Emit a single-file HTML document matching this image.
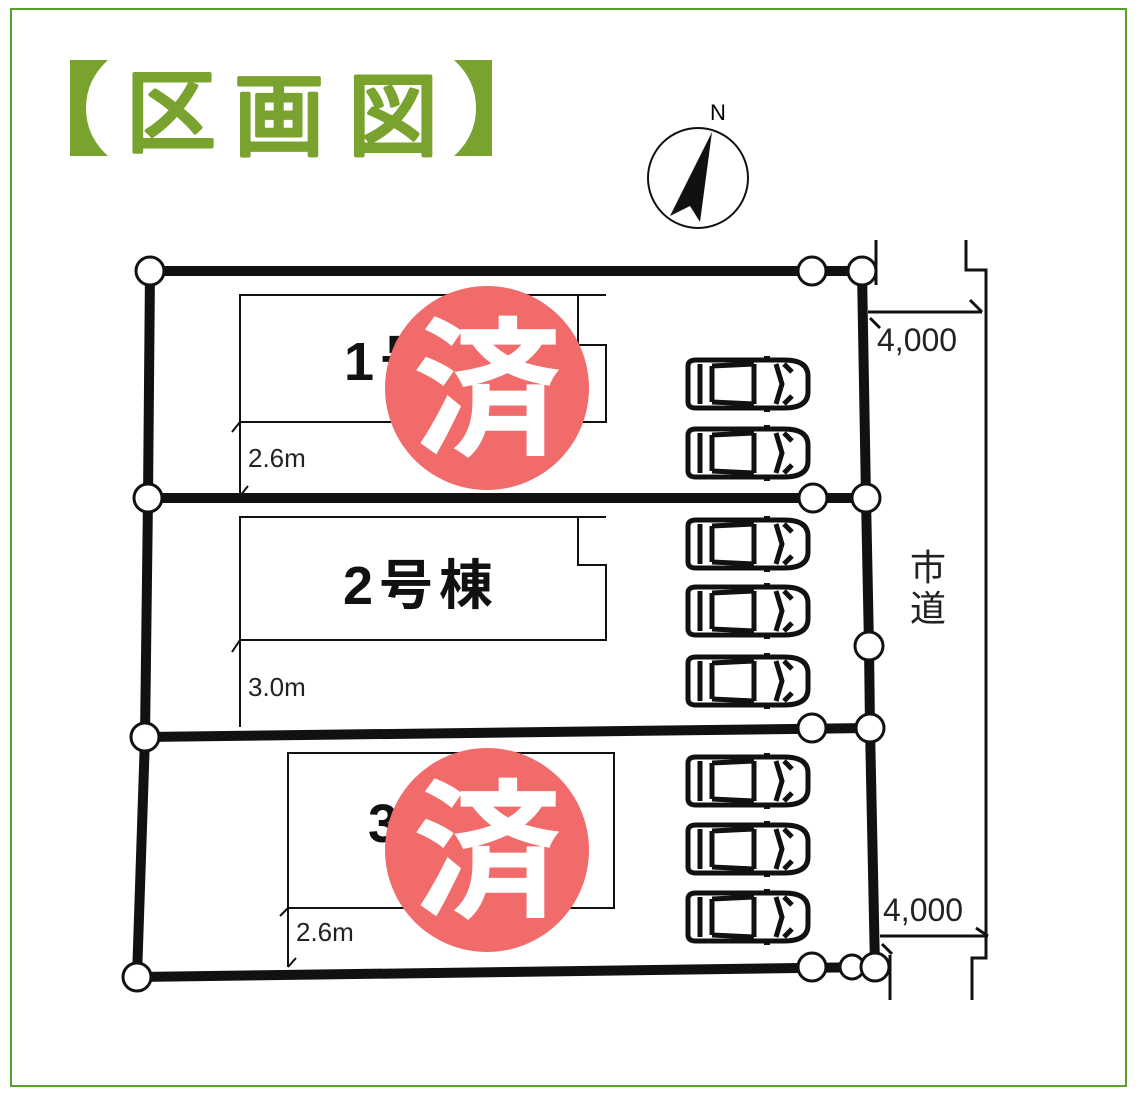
<!DOCTYPE html>
<html><head><meta charset="utf-8"><style>
html,body{margin:0;padding:0;background:#fff;}
svg{display:block;}
text{font-family:"Liberation Sans","Noto Sans CJK JP",sans-serif;}
</style></head><body>
<svg width="1139" height="1093" viewBox="0 0 1139 1093" xmlns="http://www.w3.org/2000/svg">
<defs>
<g id="car" fill="none" stroke="#111" stroke-width="5">
  <path d="M4,8 Q4,2 12,2 L100,2 Q124,2 124,18 L124,34 Q124,50 100,50 L12,50 Q4,50 4,44 Z"/>
  <path d="M16,6 L16,46 M28,8 L28,44 M70,6 L70,46 M92,6 L98,26 L92,46 M28,8 L70,6 M28,44 L70,46 M100,6 L108,14 M100,46 L108,38"/>
  <rect x="80" y="-2" width="6" height="6" fill="#111" stroke="none"/>
  <rect x="80" y="48" width="6" height="6" fill="#111" stroke="none"/>
</g>
</defs>
<rect x="11" y="9" width="1115" height="1077" fill="#fff" stroke="#5aa02c" stroke-width="2"/>

<!-- title -->
<g fill="#7aa22e">
  <path d="M70,60 L108,60 Q86,80 86,108 Q86,136 108,156 L70,156 Z"/>
  <path d="M492,60 L454,60 Q476,80 476,108 Q476,136 454,156 L492,156 Z"/>
  <g stroke="#7aa22e" stroke-width="4" stroke-linejoin="round">
  <text x="126" y="144" font-size="90">区</text>
  <text x="234" y="148" font-size="90">画</text>
  <text x="348" y="148" font-size="90">図</text>
  </g>
</g>

<!-- compass -->
<circle cx="698" cy="178" r="50" fill="none" stroke="#111" stroke-width="2"/>
<path d="M712,132 L700,222 L690,206 L670,216 Z" fill="#111"/>
<text x="710" y="120" font-size="22">N</text>

<!-- houses -->
<g fill="none" stroke="#111" stroke-width="2">
  <path d="M240,422 L240,295 L606,295 M578,295 L578,345 L606,345 L606,422 L240,422"/>
  <path d="M240,496 L240,422 M232,432 L240,422"/>
  <path d="M240,640 L240,517 L606,517 M578,517 L578,565 L606,565 L606,640 L240,640"/>
  <path d="M240,727 L240,640 M232,652 L240,640"/>
  <path d="M288,908 L288,753 L614,753 L614,908 L288,908"/>
  <path d="M288,967 L288,908 M280,916 L288,908 M288,967 L296,958"/>
  <path d="M240,496 L248,486"/>
</g>
<text x="248" y="467" font-size="26" fill="#222">2.6m</text>
<text x="248" y="696" font-size="26" fill="#222">3.0m</text>
<text x="296" y="941" font-size="26" fill="#222">2.6m</text>
<text x="344" y="380" font-size="54" font-weight="bold" fill="#111" letter-spacing="6">1号棟</text>
<text x="343" y="604" font-size="54" font-weight="bold" fill="#111" letter-spacing="6">2号棟</text>
<text x="368" y="842" font-size="54" font-weight="bold" fill="#111" letter-spacing="6">3号棟</text>

<!-- road -->
<g fill="none" stroke="#111" stroke-width="3">
  <path d="M876,240 L876,285"/>
  <path d="M966,240 L966,270 L986,270 L986,958 L972,958 L972,1000"/>
  <path d="M890,955 L890,1000"/>
  <path d="M868,312 L982,312 M970,300 L982,312 M870,318 L880,328"/>
  <path d="M880,936 L988,936 M976,928 L988,936 M882,944 L892,954"/>
</g>
<text x="877" y="351" font-size="32" fill="#222">4,000</text>
<text x="883" y="921" font-size="32" fill="#222">4,000</text>
<text x="910" y="580" font-size="36" fill="#222">市</text>
<text x="910" y="621" font-size="36" fill="#222">道</text>

<!-- lot lines -->
<g stroke="#111" stroke-width="10" fill="none" stroke-linejoin="round">
  <path d="M150,271 L862,271"/>
  <path d="M148,498 L866,498"/>
  <path d="M145,737 L870,728"/>
  <path d="M137,977 L875,967"/>
  <path d="M150,271 L148,498 L145,737 L137,977"/>
  <path d="M862,271 L866,498 L869,646 L870,728 L875,967"/>
</g>
<g fill="#fff" stroke="#111" stroke-width="3">
  <circle cx="150" cy="271" r="14"/><circle cx="812" cy="271" r="14"/><circle cx="862" cy="271" r="14"/>
  <circle cx="148" cy="498" r="14"/><circle cx="813" cy="498" r="14"/><circle cx="866" cy="498" r="14"/>
  <circle cx="869" cy="646" r="14"/>
  <circle cx="145" cy="737" r="14"/><circle cx="812" cy="728" r="14"/><circle cx="870" cy="728" r="14"/>
  <circle cx="137" cy="977" r="14"/><circle cx="812" cy="967" r="14"/><circle cx="852" cy="967" r="12"/><circle cx="875" cy="967" r="14"/>
</g>

<!-- cars -->
<use href="#car" x="684" y="358"/>
<use href="#car" x="684" y="427"/>
<use href="#car" x="684" y="518"/>
<use href="#car" x="684" y="585"/>
<use href="#car" x="684" y="655"/>
<use href="#car" x="684" y="755"/>
<use href="#car" x="684" y="823"/>
<use href="#car" x="684" y="891"/>

<!-- sold marks -->
<circle cx="487" cy="388" r="102" fill="#f26b6b"/>
<circle cx="487" cy="850" r="102" fill="#f26b6b"/>
<text x="487" y="443" font-size="150" fill="#fff" text-anchor="middle" font-weight="bold">済</text>
<text x="487" y="905" font-size="150" fill="#fff" text-anchor="middle" font-weight="bold">済</text>
</svg>
</body></html>
